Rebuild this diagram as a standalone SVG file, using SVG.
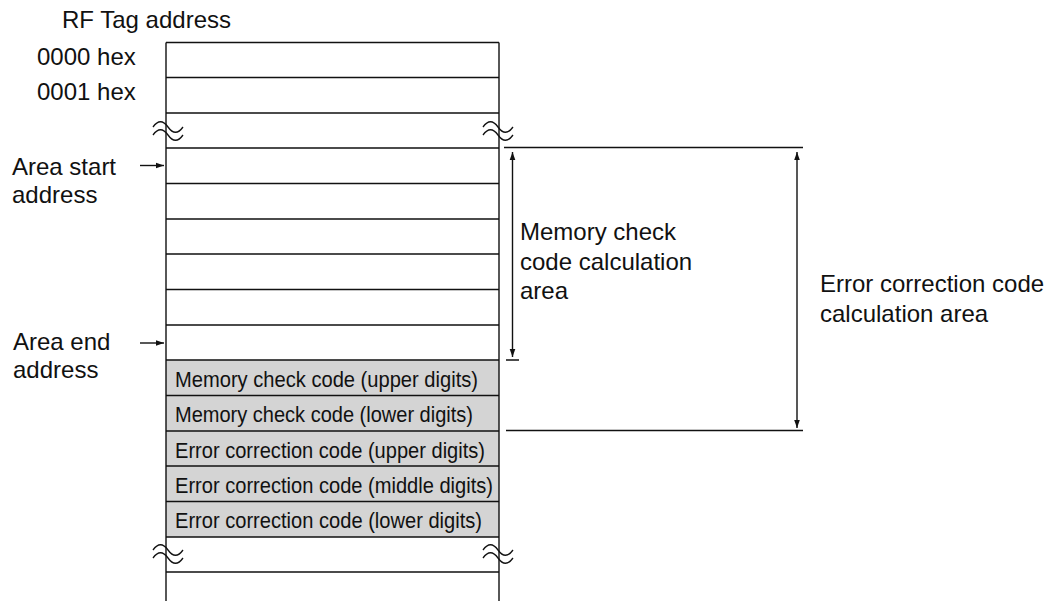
<svg xmlns="http://www.w3.org/2000/svg" width="1045" height="601" viewBox="0 0 1045 601">
<style>
.ln{stroke:#111;stroke-width:1.4;fill:none}
.sq{stroke:#111;stroke-width:1.3;fill:none}
.lbl{font-family:"Liberation Sans",Arial,sans-serif;font-size:24px;fill:#111}
.cell{font-family:"Liberation Sans",Arial,sans-serif;font-size:22.5px;fill:#111}
.gray{fill:#d4d4d4;stroke:none}
</style>
<defs>
<marker id="ah" viewBox="0 0 10 10" refX="10" refY="5" markerWidth="8" markerHeight="8" markerUnits="userSpaceOnUse" orient="auto">
<path d="M0,1.5 L10,5 L0,8.5 Z" fill="#111"/>
</marker>
<path id="tilde" d="M0,0 c5,-7 10,-7 15,0 s10,7 15,0 M0,8 c5,-7 10,-7 15,0 s10,7 15,0" class="sq"/>
</defs>
<rect width="1045" height="601" fill="#fff"/>

<g id="memory-table">
<rect class="gray" x="166" y="360" width="333" height="177"/>
<path class="ln" d="M166,42.5 V601 M499,42.5 V601"/>
<path class="ln" d="M166,42.5 H499 M166,77.5 H499 M166,113 H499 M166,148 H499 M166,183.5 H499 M166,219 H499 M166,254 H499 M166,289.5 H499 M166,325 H499 M166,360 H499 M166,395.5 H499 M166,431 H499 M166,466 H499 M166,501.5 H499 M166,537 H499 M166,572 H499"/>
<use href="#tilde" x="153" y="127"/>
<use href="#tilde" x="483" y="127"/>
<use href="#tilde" x="153" y="550"/>
<use href="#tilde" x="483" y="550"/>
</g>

<g id="cell-mcc-upper"><text class="cell" x="175" y="386.5" textLength="303" lengthAdjust="spacingAndGlyphs">Memory check code (upper digits)</text></g>
<g id="cell-mcc-lower"><text class="cell" x="175" y="422" textLength="298" lengthAdjust="spacingAndGlyphs">Memory check code (lower digits)</text></g>
<g id="cell-ecc-upper"><text class="cell" x="175" y="457.5" textLength="310" lengthAdjust="spacingAndGlyphs">Error correction code (upper digits)</text></g>
<g id="cell-ecc-middle"><text class="cell" x="175" y="492.5" textLength="318" lengthAdjust="spacingAndGlyphs">Error correction code (middle digits)</text></g>
<g id="cell-ecc-lower"><text class="cell" x="175" y="528" textLength="307" lengthAdjust="spacingAndGlyphs">Error correction code (lower digits)</text></g>

<g id="labels">
<text class="lbl" x="62" y="28">RF Tag address</text>
<text class="lbl" x="37" y="65">0000 hex</text>
<text class="lbl" x="37" y="100">0001 hex</text>
</g>
<g id="area-start"><text class="lbl" x="12" y="175">Area start</text><text class="lbl" x="12" y="203">address</text></g>
<g id="area-end"><text class="lbl" x="13" y="350">Area end</text><text class="lbl" x="13" y="378">address</text></g>
<g id="mcc-area-label"><text class="lbl" x="520" y="240">Memory check</text><text class="lbl" x="520" y="270">code calculation</text><text class="lbl" x="520" y="299">area</text></g>
<g id="ecc-area-label"><text class="lbl" x="820" y="292">Error correction code</text><text class="lbl" x="820" y="322">calculation area</text></g>

<g id="connectors">
<line class="ln" x1="140" y1="165.5" x2="164" y2="165.5" marker-end="url(#ah)"/>
<line class="ln" x1="140" y1="343" x2="164" y2="343" marker-end="url(#ah)"/>
<path class="ln" d="M504,147.5 H803 M506,430.5 H803 M506,360 H519"/>
<line class="ln" x1="512.5" y1="255" x2="512.5" y2="152" marker-end="url(#ah)"/>
<line class="ln" x1="512.5" y1="255" x2="512.5" y2="357" marker-end="url(#ah)"/>
<line class="ln" x1="797" y1="290" x2="797" y2="152" marker-end="url(#ah)"/>
<line class="ln" x1="797" y1="290" x2="797" y2="428" marker-end="url(#ah)"/>
</g>
</svg>
